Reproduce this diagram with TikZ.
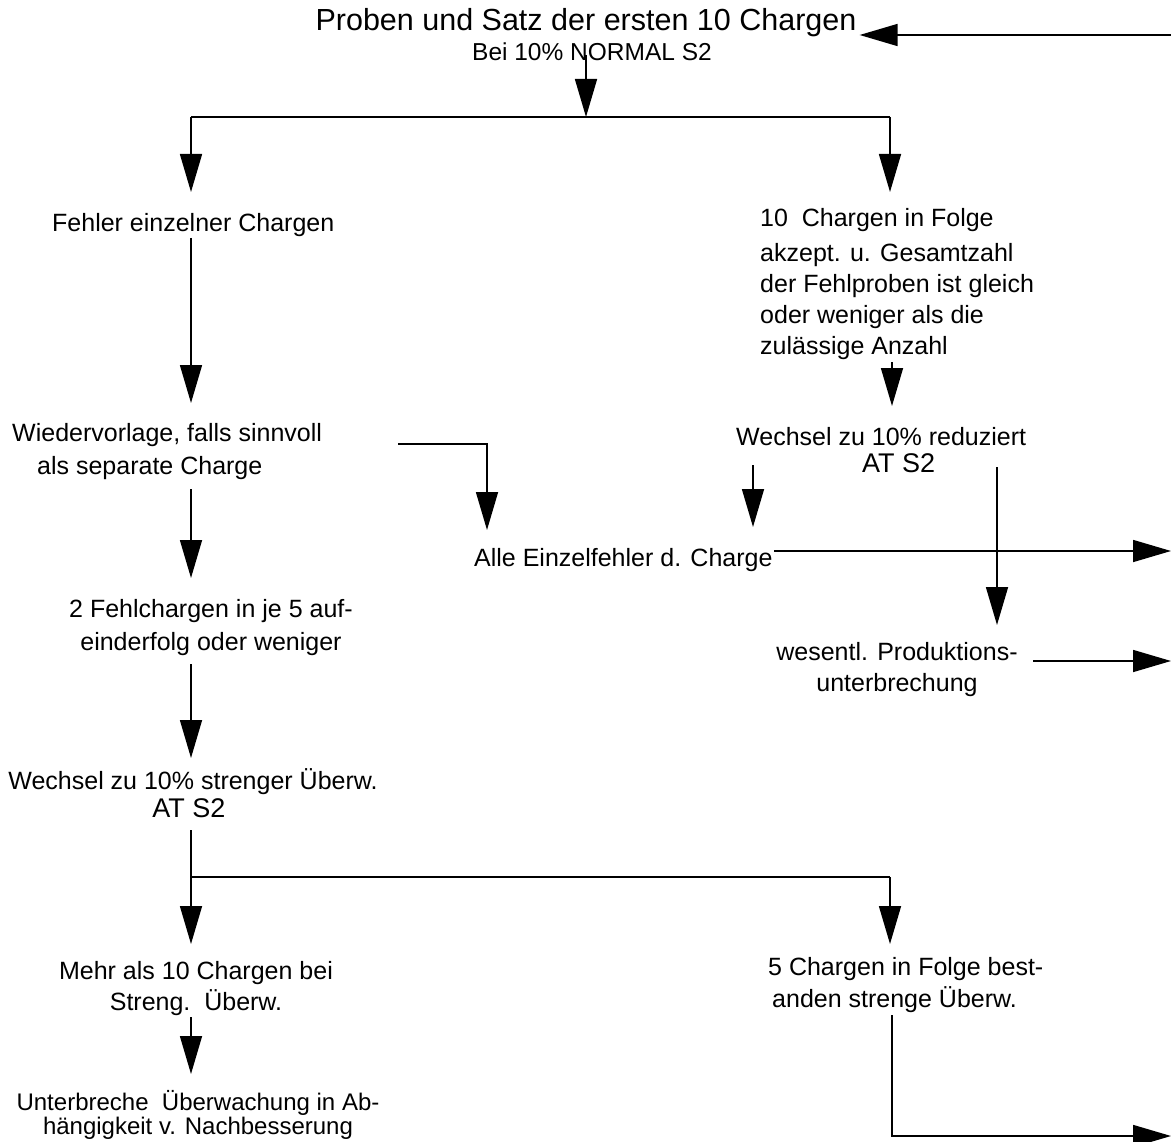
\documentclass[tikz,border=0pt]{standalone}
\usepackage{fontspec}
\setmainfont{Liberation Sans}
\usetikzlibrary{arrows.meta}
\tikzset{
  txt/.style={inner sep=0pt, font=\fontsize{25}{31}\selectfont},
  big/.style={inner sep=0pt, font=\fontsize{27}{31}\selectfont},
  flow/.style={line width=1.6pt, -{Triangle[width=22pt, length=38pt]}},
  plain/.style={line width=1.6pt}
}
\begin{document}
\begin{tikzpicture}[x=1pt, y=-1pt]
      \useasboundingbox (0, 0) rectangle (1171, 1142);

      % texts (multi-line nodes sit on the baseline of their last line)
      \node [inner sep=0pt, font=\fontsize{30.5}{34}\selectfont, anchor=base] (title) at (586, 31) {Proben und Satz der ersten 10 Chargen};
      \node [inner sep=0pt, font=\fontsize{24.5}{28}\selectfont, anchor=base] (bei) at (592, 61) {Bei 10\% NORMAL S2};
      \node [txt, anchor=base west] (fehler) at (52, 232) {Fehler einzelner Chargen};
      \node [txt, anchor=base west, align=left] (folge) at (760, 354) {10\ \ Chargen in Folge\\[4pt] akzept. u. Gesamtzahl\\ der Fehlproben ist gleich\\ oder weniger als die\\ zulässige Anzahl};
      \node [txt, anchor=base west, align=left] (wieder) at (12, 474) {Wiedervorlage, falls sinnvoll\\[2pt] \hspace*{25pt}als separate Charge};
      \node [txt, anchor=base west] (redu) at (736, 445) {Wechsel zu 10\% reduziert};
      \node [big, anchor=base west] (reduat) at (862, 472) {AT S2};
      \node [txt, anchor=base west] (alle) at (474, 566) {Alle Einzelfehler d. Charge};
      \node [txt, anchor=base, align=center] (wes) at (897, 691) {wesentl. Produktions-\\ unterbrechung};
      \node [txt, anchor=base, align=center] (fehlch) at (211, 650) {2 Fehlchargen in je 5 auf-\\[2pt] einderfolg oder weniger};
      \node [txt, anchor=base] (streng) at (193, 789) {Wechsel zu 10\% strenger Überw.};
      \node [big, anchor=base] (strengat) at (189, 817) {AT S2};
      \node [txt, anchor=base, align=center] (mehr) at (196, 1010) {Mehr als 10 Chargen bei\\ Streng.\ \ Überw.};
      \node [txt, anchor=base, align=center, font=\fontsize{24}{21}\selectfont] (unter) at (198, 1134) {Unterbreche\ \ Überwachung in Ab-\\ hängigkeit v. Nachbesserung};
      \node [txt, anchor=base west, align=left] (best) at (768, 1007) {5 Chargen in Folge best-\\[1pt] \hspace*{4pt}anden strenge Überw.};

      % junctions and ends
      \coordinate (beiout) at (586, 55);
      \coordinate (forka) at (586, 117);
      \coordinate (forkal) at (191, 117);
      \coordinate (forkar) at (890, 117);
      \coordinate (fehlerin) at (191, 192);
      \coordinate (folgein) at (890, 192);
      \coordinate (fehlerout) at (191, 238);
      \coordinate (wiederin) at (191, 403);
      \coordinate (folgeout) at (892, 362);
      \coordinate (reduin) at (892, 406);
      \coordinate (wiederout) at (191, 489);
      \coordinate (fehlchin) at (191, 578);
      \coordinate (wiederr) at (398, 444);
      \coordinate (elbowa) at (487, 444);
      \coordinate (allein) at (487, 530);
      \coordinate (reduoutl) at (753, 465);
      \coordinate (alleinb) at (753, 527);
      \coordinate (alleout) at (774, 551);
      \coordinate (exita) at (1171, 551);
      \coordinate (reduoutr) at (997, 467);
      \coordinate (wesin) at (997, 625);
      \coordinate (wesout) at (1033, 661);
      \coordinate (exitb) at (1171, 661);
      \coordinate (fehlchout) at (191, 664);
      \coordinate (strengin) at (191, 758);
      \coordinate (strengout) at (191, 830);
      \coordinate (forkb) at (191, 877);
      \coordinate (forkbr) at (890, 877);
      \coordinate (mehrin) at (191, 944);
      \coordinate (bestin) at (890, 944);
      \coordinate (mehrout) at (191, 1017);
      \coordinate (unterin) at (191, 1074);
      \coordinate (bestout) at (892, 1015);
      \coordinate (elbowb) at (892, 1136);
      \coordinate (exitc) at (1171, 1136);
      \coordinate (back) at (1171, 35);

      % connectors
      \draw [flow] (back) -- ([xshift=3pt]title.east |- back);
      \draw [flow] (beiout) -- (forka);
      \draw [plain] (forkal) -- (forkar);
      \draw [flow] (forkal) -- (fehlerin);
      \draw [flow] (forkar) -- (folgein);
      \draw [flow] (fehlerout) -- (wiederin);
      \draw [flow] (folgeout) -- (reduin);
      \draw [flow] (wiederout) -- (fehlchin);
      \draw [flow] (wiederr) -- (elbowa) -- (allein);
      \draw [flow] (reduoutl) -- (alleinb);
      \draw [flow] (alleout) -- (exita);
      \draw [flow] (reduoutr) -- (wesin);
      \draw [flow] (wesout) -- (exitb);
      \draw [flow] (fehlchout) -- (strengin);
      \draw [plain] (strengout) -- (forkb) -- (forkbr);
      \draw [flow] (forkb) -- (mehrin);
      \draw [flow] (forkbr) -- (bestin);
      \draw [flow] (mehrout) -- (unterin);
      \draw [flow] (bestout) -- (elbowb) -- (exitc);
    \end{tikzpicture}
\end{document}
